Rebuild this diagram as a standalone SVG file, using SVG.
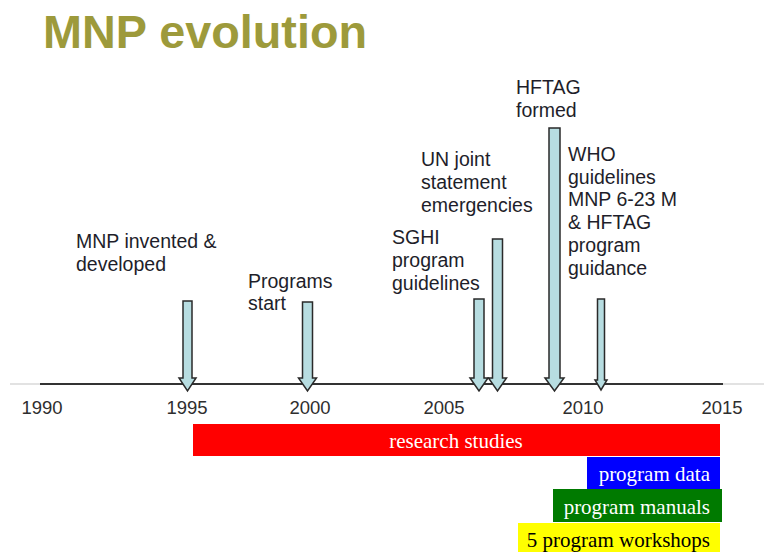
<svg xmlns="http://www.w3.org/2000/svg" width="764" height="552" viewBox="0 0 764 552">
  <style>
    .title { font-family: "Liberation Sans", Arial, sans-serif; font-weight: bold; font-size: 46.8px; fill: #9d9a3b; }
    .lbl { font-family: "Liberation Sans", Arial, sans-serif; font-size: 19.5px; fill: #1e1e2a; }
    .year { font-family: "Liberation Sans", Arial, sans-serif; font-size: 18.5px; fill: #2e2e2e; text-anchor: middle; }
    .bar { font-family: "Liberation Serif", "Times New Roman", serif; font-size: 21px; fill: #fff; }
    .arrow { fill: #b7dde1; stroke: #2a2a2a; stroke-width: 1.5; stroke-linejoin: miter; }
  </style>

  <rect width="764" height="552" fill="#fff"/>

  <text class="title" x="43" y="48">MNP evolution</text>

  <!-- time axis -->
  <g id="axis">
    <line x1="10" y1="384" x2="764" y2="384" stroke="#d8d8d8" stroke-width="1.5"/>
    <line x1="40" y1="384" x2="723" y2="384" stroke="#333" stroke-width="1.8"/>
    <text class="year" x="42" y="414">1990</text>
    <text class="year" x="187" y="414">1995</text>
    <text class="year" x="310" y="414">2000</text>
    <text class="year" x="444" y="414">2005</text>
    <text class="year" x="583" y="414">2010</text>
    <text class="year" x="722" y="414">2015</text>
  </g>

  <!-- event markers -->
  <g id="connectors">
    <path class="arrow" d="M183,301 H192 V378 H196 L187.5,391 L179,378 H183 Z"/>
    <path class="arrow" d="M302.5,302 H312.5 V378 H316.5 L307.5,391 L298.5,378 H302.5 Z"/>
    <path class="arrow" d="M474,299 H484 V378 H488 L479,391 L470,378 H474 Z"/>
    <path class="arrow" d="M492.5,239 H502.5 V378 H506.5 L497.5,391 L488.5,378 H492.5 Z"/>
    <path class="arrow" d="M549,128 H560 V378 H564 L554.5,391 L545,378 H549 Z"/>
    <path class="arrow" d="M597.5,299 H604.5 V380 H607 L601,390 L595,380 H597.5 Z"/>
  </g>

  <g id="event-invented">
    <text class="lbl" x="76" y="248">MNP invented &amp;</text>
    <text class="lbl" x="76" y="271">developed</text>
  </g>
  <g id="event-programs">
    <text class="lbl" x="248" y="288">Programs</text>
    <text class="lbl" x="248" y="310">start</text>
  </g>
  <g id="event-sghi">
    <text class="lbl" x="392" y="244">SGHI</text>
    <text class="lbl" x="392" y="267">program</text>
    <text class="lbl" x="392" y="290">guidelines</text>
  </g>
  <g id="event-un">
    <text class="lbl" x="421" y="166">UN joint</text>
    <text class="lbl" x="421" y="189">statement</text>
    <text class="lbl" x="421" y="212">emergencies</text>
  </g>
  <g id="event-hftag">
    <text class="lbl" x="516" y="94">HFTAG</text>
    <text class="lbl" x="516" y="117">formed</text>
  </g>
  <g id="event-who">
    <text class="lbl" x="568" y="161">WHO</text>
    <text class="lbl" x="568" y="184">guidelines</text>
    <text class="lbl" x="568" y="206">MNP 6-23 M</text>
    <text class="lbl" x="568" y="229">&amp; HFTAG</text>
    <text class="lbl" x="568" y="252">program</text>
    <text class="lbl" x="568" y="275">guidance</text>
  </g>

  <!-- activity spans -->
  <g id="span-research">
    <rect x="193" y="424" width="527" height="32" fill="#ff0000"/>
    <text class="bar" x="456" y="448" text-anchor="middle">research studies</text>
  </g>
  <g id="span-data">
    <rect x="587" y="457" width="133" height="32" fill="#0000ff"/>
    <text class="bar" x="710" y="481" text-anchor="end">program data</text>
  </g>
  <g id="span-manuals">
    <rect x="553" y="489" width="169" height="33" fill="#007a00"/>
    <text class="bar" x="710" y="514" text-anchor="end">program manuals</text>
  </g>
  <g id="span-workshops">
    <rect x="518" y="523" width="202" height="29" fill="#ffff00"/>
    <text class="bar" x="710" y="547" text-anchor="end" style="fill:#000">5 program workshops</text>
  </g>
</svg>
